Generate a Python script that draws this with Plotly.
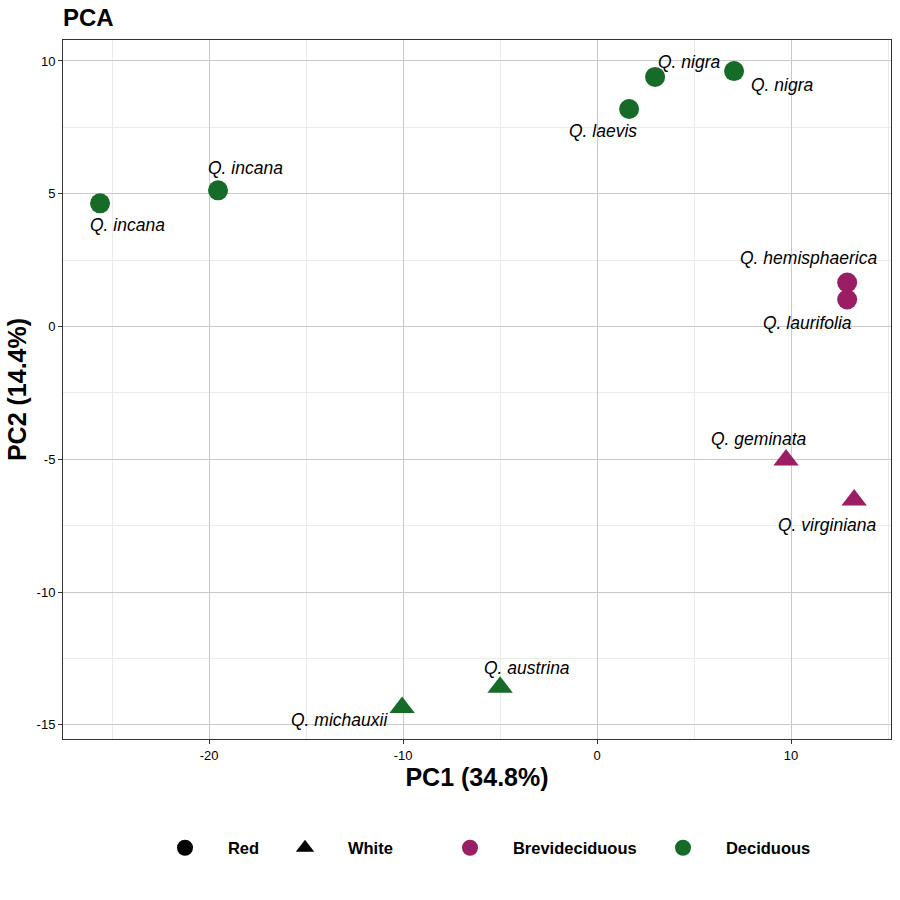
import plotly.graph_objects as go

# Data
species = ["Q. incana", "Q. incana", "Q. laevis", "Q. nigra", "Q. nigra",
           "Q. hemisphaerica", "Q. laurifolia", "Q. geminata", "Q. virginiana",
           "Q. austrina", "Q. michauxii"]
pc1 = [-25.62, -19.54, 1.65, 2.99, 7.06, 12.89, 12.89, 9.74, 13.25, -5.0, -10.05]
pc2 = [4.64, 5.13, 8.19, 9.40, 9.62, 1.66, 1.02, -5.02, -6.53, -13.58, -14.34]
oak_group = ["Red", "Red", "Red", "Red", "Red", "Red", "Red", "White", "White", "White", "White"]
leaf_habit = ["Deciduous", "Deciduous", "Deciduous", "Deciduous", "Deciduous",
              "Brevideciduous", "Brevideciduous", "Brevideciduous", "Brevideciduous",
              "Deciduous", "Deciduous"]
# label positions (repelled)
label_x = [-24.23, -18.14, 0.31, 4.74, 9.54, 10.88, 10.82, 8.35, 11.86, -3.61, -13.30]
label_y = [3.81, 5.96, 7.36, 9.96, 9.09, 2.57, 0.15, -4.23, -7.47, -12.87, -14.83]

x_ticks = [-20, -10, 0, 10]
y_ticks = [-15, -10, -5, 0, 5, 10]

colors = {"Brevideciduous": "#9B1D64", "Deciduous": "#166B28"}
symbols = {"Red": "circle", "White": "triangle-up"}

fig = go.Figure()

for habit in ["Brevideciduous", "Deciduous"]:
    for grp in ["Red", "White"]:
        idx = [i for i in range(len(pc1)) if leaf_habit[i] == habit and oak_group[i] == grp]
        if not idx:
            continue
        fig.add_trace(go.Scatter(
            x=[pc1[i] for i in idx], y=[pc2[i] for i in idx],
            mode="markers", showlegend=False,
            marker=dict(color=colors[habit], symbol=symbols[grp],
                        size=20 if grp == "Red" else 22, line=dict(width=0)),
            hoverinfo="skip"))

sp = "\u00a0" * 5
legend_items = [
    ("Red", "black", "circle", "legend"),
    ("White", "black", "triangle-up", "legend2"),
    ("Brevideciduous", colors["Brevideciduous"], "circle", "legend3"),
    ("Deciduous", colors["Deciduous"], "circle", "legend4"),
]
for name, col, sym, lg in legend_items:
    fig.add_trace(go.Scatter(
        x=[None], y=[None], mode="markers", name=sp + "<b>" + name + "</b>",
        marker=dict(color=col, symbol=sym, size=20), legend=lg, showlegend=True))

for i, s in enumerate(species):
    fig.add_annotation(x=label_x[i], y=label_y[i], text="<i>" + s + "</i>",
                       showarrow=False, xanchor="center", yanchor="middle",
                       font=dict(size=17.5, color="black", family="Liberation Sans, Arial"))

# plot area: pixel 63..891 horizontally (828 wide)
def px2paper(px):
    return (px - 63) / 828.0

leg_common = dict(orientation="h", yanchor="middle", y=-0.156, xanchor="left",
                  bgcolor="rgba(0,0,0,0)", font=dict(size=16.5, color="black",
                  family="Liberation Sans, Arial"), itemsizing="trace")

fig.update_layout(
    width=900, height=900,
    paper_bgcolor="white", plot_bgcolor="white",
    margin=dict(l=63, r=9, t=40, b=161, autoexpand=False),
    font=dict(family="Liberation Sans, Arial", color="black"),
    title=dict(text="<b>PCA</b>", x=63 / 900, xanchor="left", y=1 - 18 / 900, yanchor="middle",
               font=dict(size=24, color="black")),
    xaxis=dict(range=[-27.53, 15.15], tickvals=x_ticks, ticktext=[str(v) for v in x_ticks],
               automargin=False,
               showgrid=True, gridcolor="#C9C9C9", gridwidth=1,
               minor=dict(dtick=5, tick0=0, showgrid=True, gridcolor="#EBEBEB", gridwidth=1),
               zeroline=False, showline=True, linecolor="#333333", linewidth=1, mirror=True,
               ticks="outside", ticklen=4, tickcolor="#333333", tickfont=dict(size=13, color="black"),
               title=dict(text="<b>PC1 (34.8%)</b>", font=dict(size=25, color="black"), standoff=5)),
    yaxis=dict(range=[-15.53, 10.79], tickvals=y_ticks, ticktext=[str(v) for v in y_ticks],
               automargin=False,
               showgrid=True, gridcolor="#C9C9C9", gridwidth=1,
               minor=dict(dtick=2.5, tick0=0, showgrid=True, gridcolor="#EBEBEB", gridwidth=1),
               zeroline=False, showline=True, linecolor="#333333", linewidth=1, mirror=True,
               ticks="outside", ticklen=4, tickcolor="#333333", tickfont=dict(size=13, color="black"),
               title=dict(text="<b>PC2 (14.4%)</b>", font=dict(size=25, color="black"), standoff=2)),
    legend=dict(x=px2paper(195 - 30), **leg_common),
    legend2=dict(x=px2paper(315 - 30), **leg_common),
    legend3=dict(x=px2paper(480 - 30), **leg_common),
    legend4=dict(x=px2paper(693 - 30), **leg_common),
)

fig.write_html("out.html", post_script="document.body.style.margin='0';",
               config={"displayModeBar": False})
